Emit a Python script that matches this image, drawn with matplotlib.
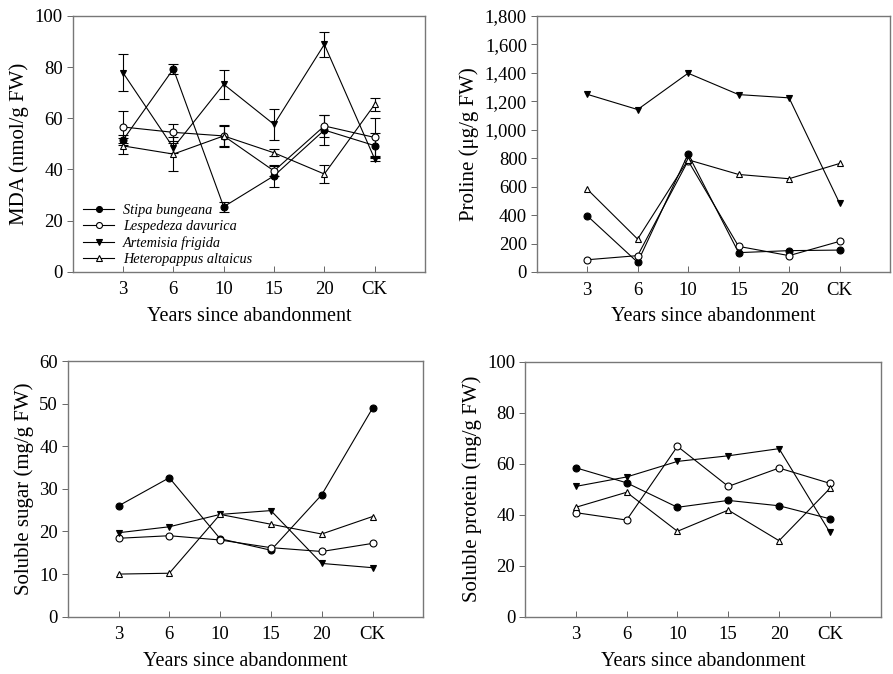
import matplotlib
matplotlib.use("Agg")
import matplotlib.pyplot as plt
from matplotlib.ticker import FuncFormatter
from matplotlib.lines import Line2D

plt.rcParams['font.family'] = ['Liberation Serif', 'DejaVu Serif']

x_labels = ['3', '6', '10', '15', '20', 'CK']
species = ['Stipa bungeana', 'Lespedeza davurica', 'Artemisia frigida', 'Heteropappus altaicus']

# MDA (nmol/g FW)
mda_stipa = [51.5, 79.3, 25.4, 37.5, 55.4, 49.3]
mda_lesp = [56.6, 54.5, 53.1, 39.4, 57.0, 52.5]
mda_arte = [77.8, 48.5, 73.3, 57.6, 88.9, 44.1]
mda_hete = [49.2, 46.0, 53.1, 46.5, 38.2, 65.4]
mda_stipa_err = [2.0, 2.0, 2.0, 4.2, 6.0, 5.0]
mda_lesp_err = [6.3, 3.3, 3.9, 2.0, 4.3, 7.5]
mda_arte_err = [7.2, 2.0, 5.7, 6.0, 5.0, 1.0]
mda_hete_err = [3.0, 6.5, 4.2, 1.3, 3.7, 2.5]

# Proline (ug/g FW)
pro_stipa = [395, 68, 828, 136, 150, 154]
pro_lesp = [86, 115, 781, 180, 115, 215]
pro_arte = [1248, 1141, 1396, 1246, 1223, 484]
pro_hete = [582, 231, 788, 685, 655, 762]

# Soluble sugar (mg/g FW)
sug_stipa = [26.0, 32.6, 18.3, 15.6, 28.6, 48.9]
sug_lesp = [18.4, 19.0, 18.0, 16.2, 15.3, 17.2]
sug_arte = [19.7, 21.1, 24.0, 24.9, 12.5, 11.5]
sug_hete = [10.0, 10.2, 24.0, 21.7, 19.4, 23.5]

# Soluble protein (mg/g FW)
prot_stipa = [58.4, 52.5, 42.9, 45.6, 43.5, 38.4]
prot_lesp = [40.8, 37.9, 66.8, 51.1, 58.3, 52.3]
prot_arte = [51.1, 54.8, 60.9, 63.1, 65.9, 33.1]
prot_hete = [42.9, 48.8, 33.5, 41.8, 29.8, 50.3]

W, H = 893, 674
fig = plt.figure(figsize=(W / 100, H / 100), dpi=100)

def add_ax(left, right, top, bottom):
    return fig.add_axes([left / W, 1 - bottom / H, (right - left) / W, (bottom - top) / H])

styles = [
    dict(marker='o', mfc='black', mec='black'),
    dict(marker='o', mfc='white', mec='black'),
    dict(marker='v', mfc='black', mec='black'),
    dict(marker='^', mfc='white', mec='black'),
]
msizes = [5.0, 5.0, 5.0, 4.8]

xs = list(range(len(x_labels)))

def style_ax(ax, ylim, yticks, ylabel, fmt=None):
    ax.set_xlim(-1, 6)
    ax.set_ylim(*ylim)
    ax.set_xticks(xs)
    ax.set_xticklabels(x_labels)
    ax.set_yticks(yticks)
    if fmt:
        ax.yaxis.set_major_formatter(FuncFormatter(fmt))
    ax.tick_params(axis='x', direction='in', length=4, width=0.7, color='#666666', labelsize=13.5, pad=7)
    ax.tick_params(axis='y', direction='out', length=4, width=0.7, color='#666666', labelsize=13.5, pad=3)
    for s in ax.spines.values():
        s.set_color('#777777')
        s.set_linewidth(1.0)
    ax.set_ylabel(ylabel, fontsize=15)
    ax.set_xlabel('Years since abandonment', fontsize=14.5, labelpad=6)

def plot_series(ax, series, errs=None):
    for i, ys in enumerate(series):
        st = styles[i]
        if errs is not None:
            ax.errorbar(xs, ys, yerr=errs[i], color='black', lw=0.8, capsize=3.5,
                        elinewidth=0.8, capthick=0.8, marker=st['marker'], mfc=st['mfc'],
                        mec=st['mec'], ms=msizes[i], mew=0.8, zorder=3 + i)
        else:
            ax.plot(xs, ys, color='black', lw=0.8, marker=st['marker'], mfc=st['mfc'],
                    mec=st['mec'], ms=msizes[i], mew=0.8, zorder=3 + i)

# Panel 1: MDA
ax1 = add_ax(72.7, 425, 16, 271.7)
plot_series(ax1, [mda_stipa, mda_lesp, mda_arte, mda_hete],
            [mda_stipa_err, mda_lesp_err, mda_arte_err, mda_hete_err])
style_ax(ax1, (0, 100), range(0, 101, 20), 'MDA (nmol/g FW)')
handles = [Line2D([], [], color='black', lw=0.8, marker=styles[i]['marker'],
                  mfc=styles[i]['mfc'], mec=styles[i]['mec'], ms=4.3, mew=0.8)
           for i in range(4)]
ax1.legend(handles, species, loc='lower left', bbox_to_anchor=(0.029, 0.022), frameon=False,
           prop={'style': 'italic', 'size': 10.3}, handlelength=2.2, handletextpad=0.6,
           labelspacing=0.22, borderaxespad=0, borderpad=0)

# Panel 2: Proline
ax2 = add_ax(536.7, 890, 15.7, 272)
plot_series(ax2, [pro_stipa, pro_lesp, pro_arte, pro_hete])
style_ax(ax2, (0, 1800), range(0, 1801, 200), 'Proline (\u03bcg/g FW)',
         fmt=lambda v, p: f'{int(v):,}')

# Panel 3: Soluble sugar
ax3 = add_ax(67.7, 423.3, 361, 616.7)
plot_series(ax3, [sug_stipa, sug_lesp, sug_arte, sug_hete])
style_ax(ax3, (0, 60), range(0, 61, 10), 'Soluble sugar (mg/g FW)')

# Panel 4: Soluble protein
ax4 = add_ax(525, 880.7, 361.7, 616.7)
plot_series(ax4, [prot_stipa, prot_lesp, prot_arte, prot_hete])
style_ax(ax4, (0, 100), range(0, 101, 20), 'Soluble protein (mg/g FW)')

fig.savefig('out.png', dpi=100)
